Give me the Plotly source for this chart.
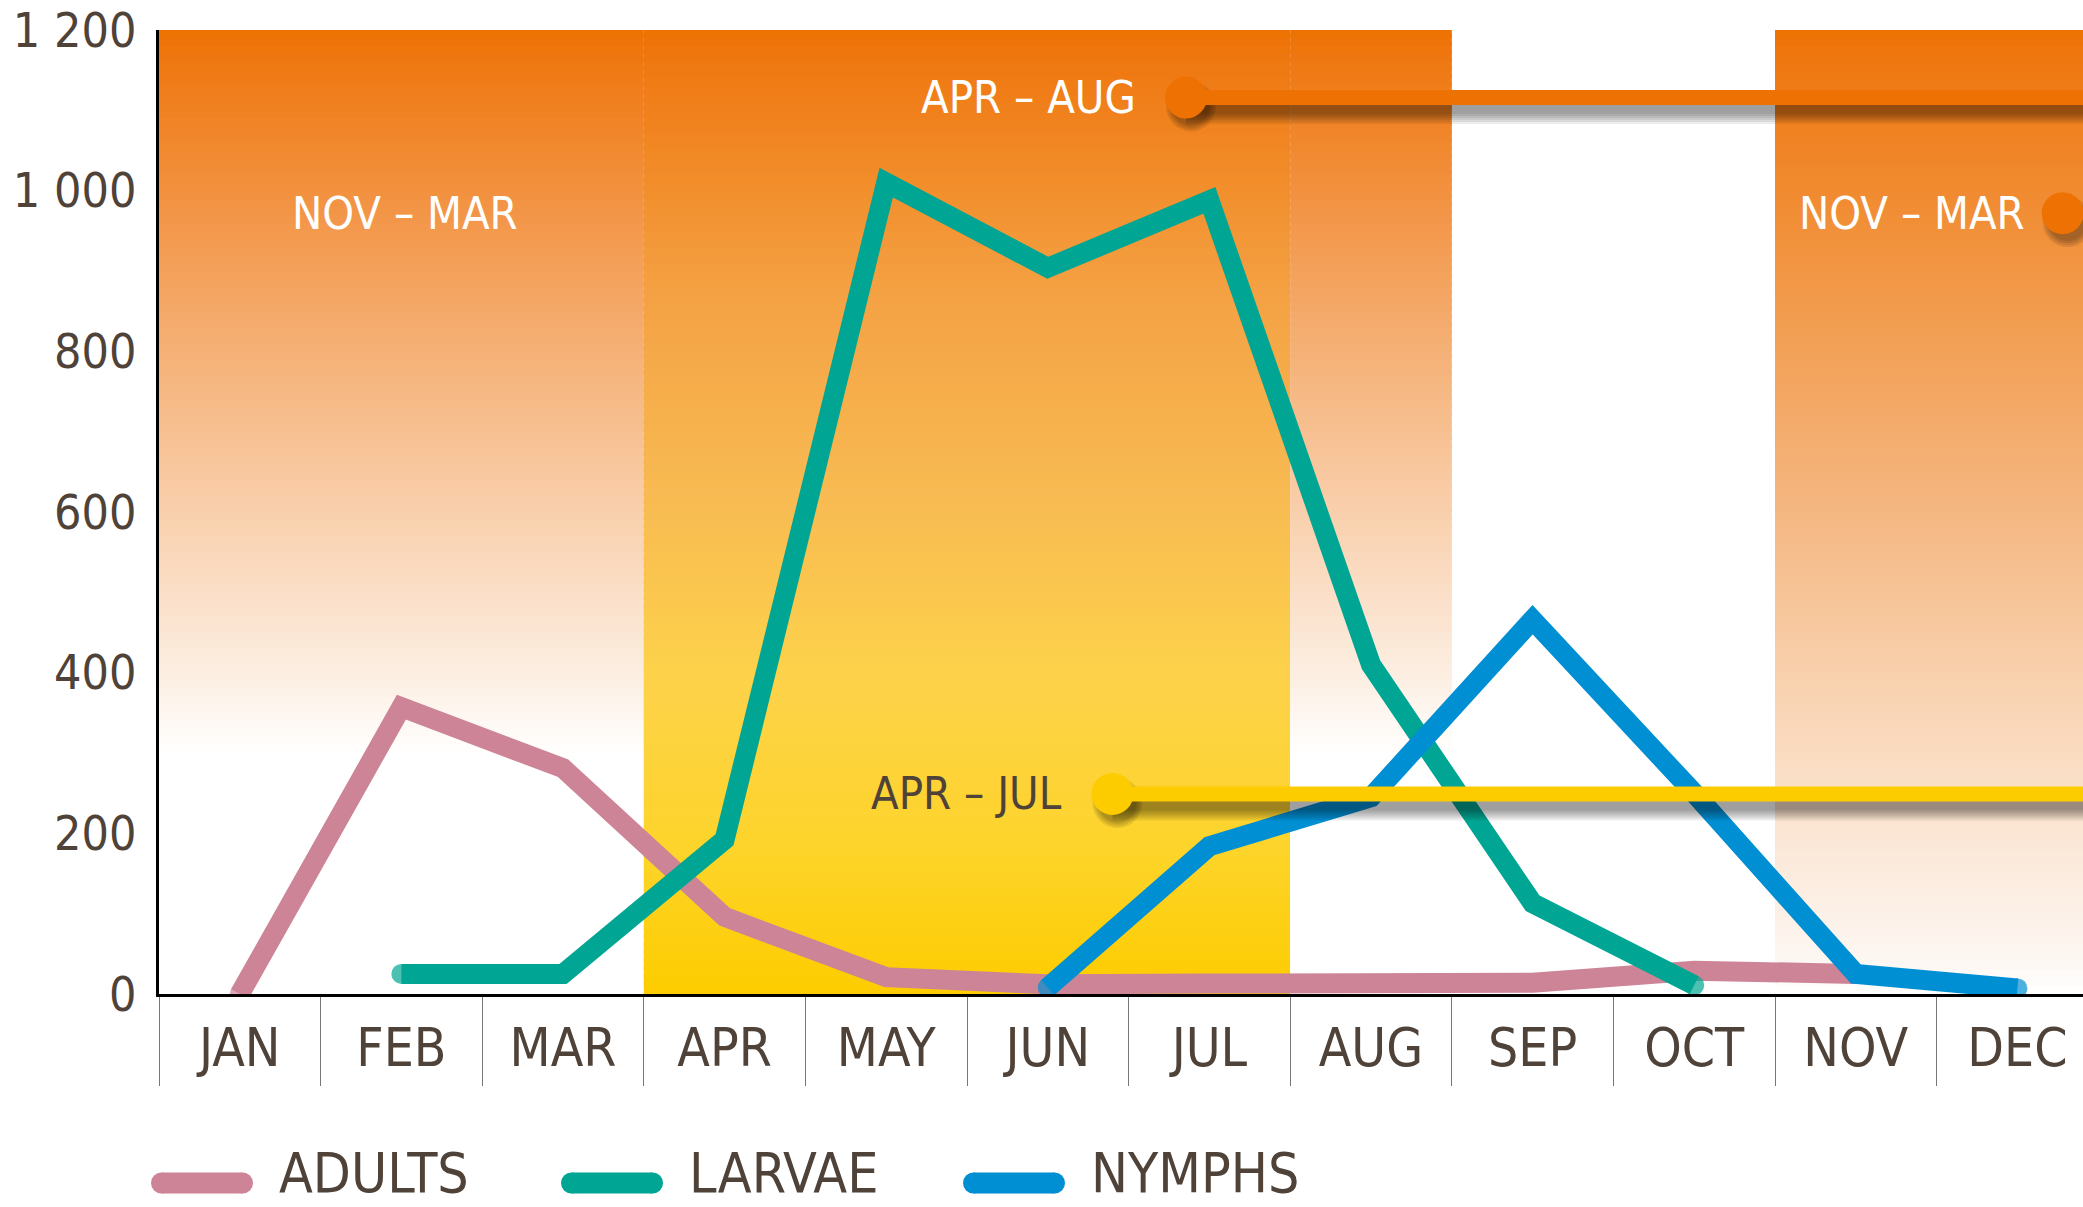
import plotly.graph_objects as go

# monthly counts
months = ["JAN", "FEB", "MAR", "APR", "MAY", "JUN", "JUL", "AUG", "SEP", "OCT", "NOV", "DEC"]
adults = [0, 357, 281, 96, 21, 12, 13, 14, 14, 29, 25, None]
larvae = [None, 25, 25, 192, 1010, 904, 988, 410, 113, 11, None, None]
nymphs = [None, None, None, None, None, 8, 184, 245, 466, 250, 25, 7]

series_names = ["ADULTS", "LARVAE", "NYMPHS"]
series_values = [adults, larvae, nymphs]
series_colors = ["#cc8496", "#00a693", "#008fd3"]

# activity periods drawn over the chart
period_names = ["APR – AUG", "APR – JUL", "NOV – MAR"]
period_level = [1116, 249, 972]
period_start = [5.855, 5.40, 11.28]
period_colors = ["#ee7203", "#fdcc00", "#ee7203"]
period_text = ["white", "#4f4238", "white"]
period_has_line = [True, True, False]
period_gap = [48, 48, 36]

band_label = "NOV – MAR"

FONT = "DejaVu Sans Condensed, DejaVu Sans, sans-serif"
BROWN = "#4f4238"
W, H = 2083, 1207
ML, MT, MB = 159, 30, 213
PW = W - ML
PH = H - MT - MB
YMAX = 1200
U = YMAX / PH  # data units per pixel
XMAX = -0.5 + PW / 161.6

orange_stops = [(0, "#ffffff"), (300, "#ffffff"), (392, "#fcefe3"), (617, "#f9cda8"),
                (868, "#f4a664"), (1167, "#ef7710"), (1200, "#ee7203")]
yellow_stops = [(0, "#fdcc00"), (180, "#fdd42a"), (392, "#fdd24a"), (617, "#f8bb52"),
                (868, "#f4a244"), (1167, "#ef7710"), (1200, "#ee7203")]
late_stops = [(0, "#ffffff"), (42, "#fdf7f2"), (180, "#fbe8d8"), (392, "#f9d1ae"),
              (617, "#f4b57e"), (868, "#f29a4a"), (1167, "#ef7710"), (1200, "#ee7203")]


def hx(c):
    c = c.lstrip("#")
    return [int(c[i:i + 2], 16) for i in (0, 2, 4)]


def grad_color(stops, v):
    for (v0, c0), (v1, c1) in zip(stops[:-1], stops[1:]):
        if v0 <= v <= v1:
            t = (v - v0) / (v1 - v0)
            a, b = hx(c0), hx(c1)
            return "rgb(%d,%d,%d)" % tuple(round(a[i] + (b[i] - a[i]) * t) for i in range(3))
    return stops[-1][1]


shapes = []


def gradient(x0, x1, stops, n=120):
    step = YMAX / n
    for i in range(n):
        lo = i * step
        shapes.append(dict(type="rect", xref="x", yref="y", x0=x0, x1=x1, y0=lo,
                           y1=min(lo + step * 1.6, YMAX), fillcolor=grad_color(stops, lo + step / 2),
                           line_width=0, layer="below"))


gradient(-0.5, 2.5, orange_stops)
gradient(2.5, 6.5, yellow_stops)
gradient(6.5, 7.5, orange_stops)
gradient(9.5, 12.5, late_stops)

fig = go.Figure()
for name, vals, col in zip(series_names, series_values, series_colors):
    idx = [i for i, v in enumerate(vals) if v is not None]
    sizes = [20 if i in (idx[0], idx[-1]) else 0 for i in range(len(vals))]
    fig.add_trace(go.Scatter(x=months, y=vals, name=name, mode="lines+markers",
                             line=dict(color=col, width=20),
                             marker=dict(size=sizes, color=col, line_width=0),
                             showlegend=False, hoverinfo="skip"))

annotations = []

# period lines with shadows
for name, lvl, x0, col, tcol, has_line, gap in zip(period_names, period_level, period_start,
                                                   period_colors, period_text, period_has_line,
                                                   period_gap):
    if has_line:
        for k in range(6):
            shapes.append(dict(type="line", xref="x", yref="y", x0=x0, x1=12.5,
                               y0=lvl - 10 * U, y1=lvl - 10 * U,
                               line=dict(color="rgba(0,0,0,0.075)", width=13 + 4 * k), layer="above"))
    for k in range(4):
        r = 19 + 2 * k
        shapes.append(dict(type="circle", xref="x", yref="y", xsizemode="pixel", ysizemode="pixel",
                           xanchor=x0, yanchor=lvl, x0=-r + 5, x1=r + 5, y0=-r - 9, y1=r - 9,
                           fillcolor="rgba(0,0,0,0.09)", line_width=0, layer="above"))
    if has_line:
        shapes.append(dict(type="line", xref="x", yref="y", x0=x0, x1=12.5, y0=lvl, y1=lvl,
                           line=dict(color=col, width=15), layer="above"))
    shapes.append(dict(type="circle", xref="x", yref="y", xsizemode="pixel", ysizemode="pixel",
                       xanchor=x0, yanchor=lvl, x0=-21, x1=21, y0=-21, y1=21,
                       fillcolor=col, line_width=0, layer="above"))
    annotations.append(dict(x=x0, y=lvl, xref="x", yref="y", text=name, showarrow=False,
                            xanchor="right", yanchor="middle", xshift=-gap,
                            font=dict(family=FONT, size=45, color=tcol)))

annotations.append(dict(x=1.02, y=972, xref="x", yref="y", text=band_label, showarrow=False,
                        xanchor="center", yanchor="middle",
                        font=dict(family=FONT, size=45, color="white")))

# custom legend
legend_x = [151, 561, 963]
legend_bar_y = 1183
legend_text_bottom = 1207
for name, col, lx in zip(series_names, series_colors, legend_x):
    yp = (MT + PH - legend_bar_y) / PH
    xa = (lx + 10.5 - ML) / PW
    xb = (lx + 102 - 10.5 - ML) / PW
    shapes.append(dict(type="line", xref="paper", yref="paper", x0=xa, x1=xb, y0=yp, y1=yp,
                       line=dict(color=col, width=21)))
    for xc in (xa, xb):
        shapes.append(dict(type="circle", xref="paper", yref="paper", xsizemode="pixel",
                           ysizemode="pixel", xanchor=xc, yanchor=yp, x0=-10.5, x1=10.5,
                           y0=-10.5, y1=10.5, fillcolor=col, line_width=0))
    annotations.append(dict(x=(lx + 102 + 24 - ML) / PW, y=(MT + PH - legend_text_bottom) / PH,
                            xref="paper", yref="paper",
                            text=name, showarrow=False, xanchor="left", yanchor="bottom",
                            font=dict(family=FONT, size=55, color=BROWN)))

fig.update_layout(
    width=W, height=H,
    margin=dict(l=ML, r=0, t=MT, b=MB, pad=0),
    paper_bgcolor="white", plot_bgcolor="white",
    separators=". ",
    shapes=shapes, annotations=annotations,
    showlegend=False,
    xaxis=dict(type="category", categoryorder="array", categoryarray=months,
               range=[-0.5, XMAX], showgrid=False, zeroline=False, automargin=False,
               showline=True, linecolor="black", linewidth=3,
               tickson="boundaries", ticks="outside", ticklen=89, tickwidth=1, tickcolor="#777",
               ticklabelstandoff=5,
               tickfont=dict(family=FONT, size=53, color=BROWN)),
    yaxis=dict(range=[0, YMAX], tickmode="linear", tick0=0, dtick=200, separatethousands=True,
               showgrid=False, zeroline=False, showline=True, linecolor="black", linewidth=3,
               ticks="", ticklabelstandoff=10, automargin=False, ticklabeloverflow="allow",
               tickfont=dict(family=FONT, size=48, color=BROWN)),
)

# drop the default page margin so the figure fills the window exactly
fig.write_html("out.html", config={"displayModeBar": False},
               post_script="document.body.style.margin='0';")
